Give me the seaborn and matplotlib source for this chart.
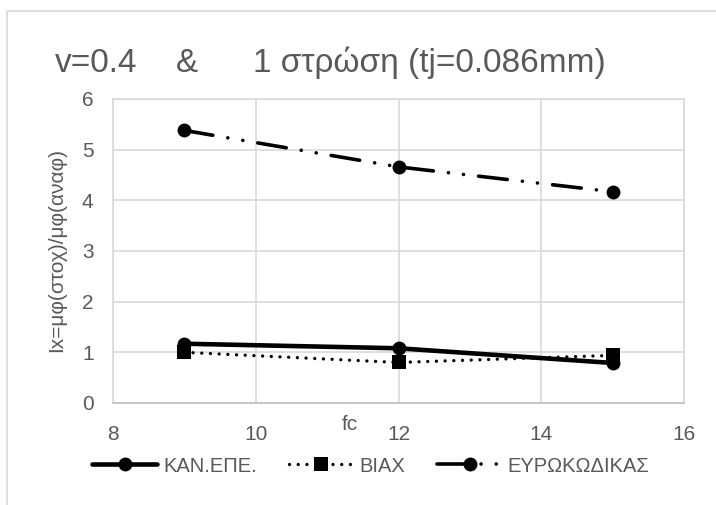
import matplotlib
matplotlib.use("Agg")
import matplotlib.pyplot as plt
from matplotlib.patches import Rectangle
import seaborn as sns
import pandas as pd

# Data series
fc = [9, 12, 15]
kan_epe = [1.17, 1.08, 0.79]
biax = [1.00, 0.80, 0.94]
eurocode = [5.38, 4.66, 4.17]

series_names = ["ΚΑΝ.ΕΠΕ.", "ΒΙΑΧ", "ΕΥΡΩΚΩΔΙΚΑΣ"]
x_ticks = [8, 10, 12, 14, 16]
y_ticks = [0, 1, 2, 3, 4, 5, 6]

title_parts = ["v=0.4", "&", "1 στρώση (tj=0.086mm)"]
x_label = "fc"
y_label = "Ix=μφ(στοχ)/μφ(αναφ)"

sns.set_theme(style="whitegrid")
plt.rcParams["font.family"] = ["Liberation Sans", "DejaVu Sans"]

W, H = 716, 505
fig = plt.figure(figsize=(W / 100, H / 100), dpi=100)
ax = fig.add_axes([113 / W, 1 - 403 / H, (684 - 113) / W, (403 - 99) / H])

df = pd.DataFrame({"fc": fc, series_names[0]: kan_epe,
                   series_names[1]: biax, series_names[2]: eurocode})

text_grey = "#595959"
grid_grey = "#d9d9d9"

# ΚΑΝ.ΕΠΕ. : solid line with circles
sns.lineplot(data=df, x="fc", y=series_names[0], ax=ax, color="black",
             lw=3.3, marker="o", markersize=10, markeredgewidth=0,
             label=series_names[0])
# ΒΙΑΧ : round dotted line with squares
sns.lineplot(data=df, x="fc", y=series_names[1], ax=ax, color="black",
             lw=2.4, marker="s", markersize=9.5, markeredgewidth=0,
             label=series_names[1])
ax.lines[-1].set_dashes((0.01, 2.6))
ax.lines[-1].set_dash_capstyle("round")
# ΕΥΡΩΚΩΔΙΚΑΣ : long dash - dot - dot with circles
sns.lineplot(data=df, x="fc", y=series_names[2], ax=ax, color="black",
             lw=2.6, marker="o", markersize=10, markeredgewidth=0,
             label=series_names[2])
ax.lines[-1].set_dashes((8.0, 4.2, 0.01, 4.2, 0.01, 4.2))
ax.lines[-1].set_dash_capstyle("round")

ax.set_xlim(8, 16)
ax.set_ylim(0, 6)
ax.set_xticks(x_ticks)
ax.set_yticks(y_ticks)
ax.tick_params(axis="both", length=0, labelsize=15, colors=text_grey)
ax.tick_params(axis="x", pad=16)
ax.tick_params(axis="y", pad=14)
ax.grid(True, color=grid_grey, lw=1.2)
for sp in ax.spines.values():
    sp.set_color(grid_grey)
    sp.set_linewidth(1.2)
ax.spines["bottom"].set_color("#bfbfbf")
ax.set_xlabel("")
ax.set_ylabel("")

# Axis titles and chart title
fig.text(350 / W, 1 - 424 / H, x_label, ha="center", va="center",
         fontsize=15, color=text_grey)
fig.text(57 / W, 1 - 250 / H, y_label, ha="center", va="center",
         rotation=90, fontsize=15, color=text_grey)
for part, px in zip(title_parts, [55, 176, 253]):
    fig.text(px / W, 1 - 63 / H, part, ha="left", va="center",
             fontsize=24, color=text_grey)

# Legend below the plot
handles, labels = ax.get_legend_handles_labels()
ax.legend_.remove()
fig.legend(handles, labels, loc="center", bbox_to_anchor=(371 / W, 1 - 466 / H),
           ncol=3, frameon=False, fontsize=14.5, handlelength=3.2,
           columnspacing=1.6, handletextpad=0.3, labelcolor=text_grey)

# Chart area border
fig.patches.append(Rectangle((7 / W, -0.1), 1.2, 1 - 10.7 / H + 0.1,
                             transform=fig.transFigure, fill=False,
                             edgecolor=grid_grey, lw=1.2))

fig.savefig("out.png", dpi=100, facecolor="white")
